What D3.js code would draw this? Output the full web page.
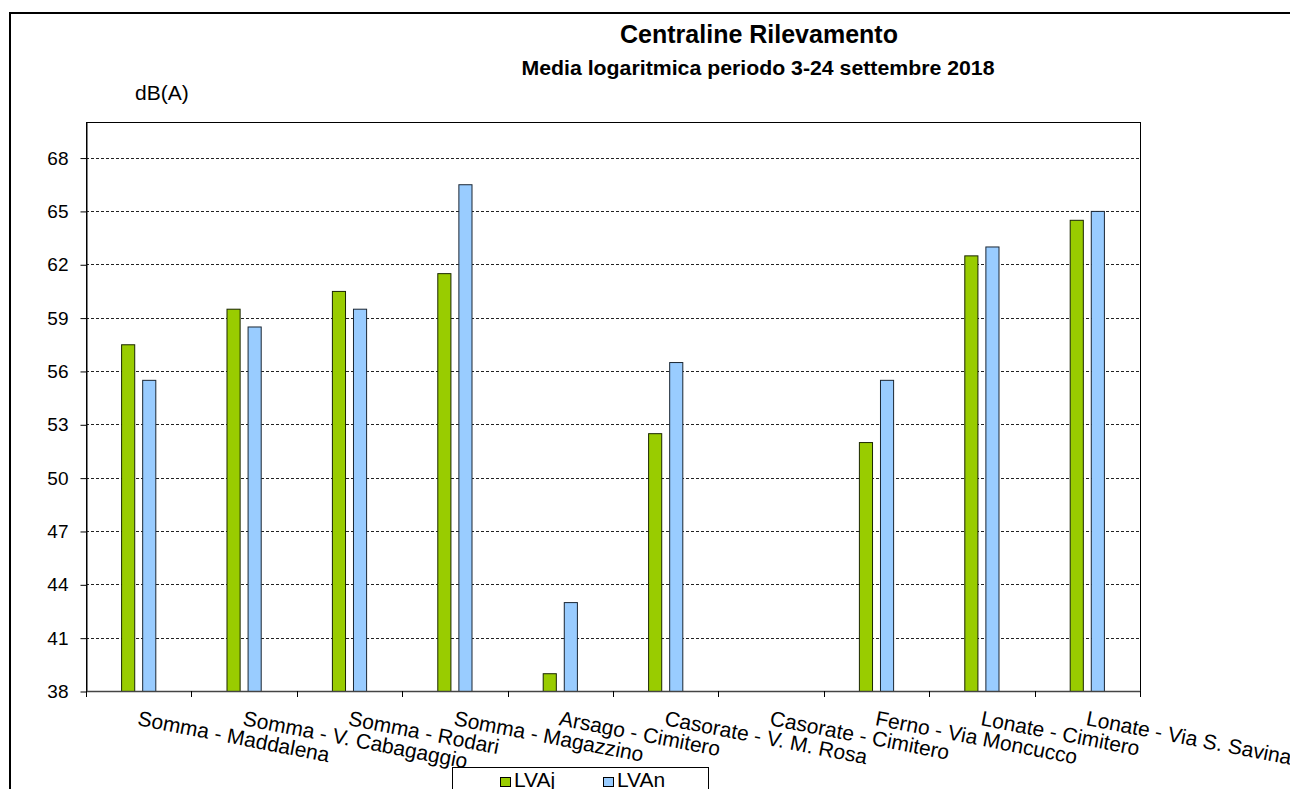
<!DOCTYPE html>
<html>
<head>
<meta charset="utf-8">
<script src="https://cdn.jsdelivr.net/npm/d3@7"></script>
<style>
  body { margin: 0; background: #fff; }
  svg { display: block; font-family: "Liberation Sans", Arial, sans-serif; }
</style>
</head>
<body>
<div id="main"></div>
<script>
// data
var stations = [
  "Somma - Maddalena", "Somma - V. Cabagaggio", "Somma - Rodari", "Somma - Magazzino",
  "Arsago - Cimitero", "Casorate - V. M. Rosa", "Casorate - Cimitero",
  "Ferno - Via Moncucco", "Lonate - Cimitero", "Lonate - Via S. Savina"
];
var lvaj = [57.5, 59.5, 60.5, 61.5, 39, 52.5, null, 52, 62.5, 64.5];
var lvan = [55.5, 58.5, 59.5, 66.5, 43, 56.5, null, 55.5, 63, 65];
var seriesNames = ["LVAj", "LVAn"];
var seriesColors = ["#99cc00", "#99ccff"];
var yTicks = [38, 41, 44, 47, 50, 53, 56, 59, 62, 65, 68];

function transform(x, y) {
  return "translate(" + x + "," + y + ")";
}

var W = 1290, H = 789;
var plot = { left: 86, top: 122, right: 1140, bottom: 691 };

var svg = d3.select("#main").append("svg")
  .attr("width", W).attr("height", H);

// outer frame of the sheet (only top and left edges visible)
svg.append("path")
  .attr("d", "M10," + (H + 5) + "V13H" + (W + 5))
  .attr("fill", "none").attr("stroke", "#000").attr("stroke-width", 2);

// titles
svg.append("text")
  .attr("x", 759).attr("y", 43)
  .attr("text-anchor", "middle")
  .attr("font-size", 25).attr("font-weight", "bold")
  .text("Centraline Rilevamento");

svg.append("text")
  .attr("x", 758).attr("y", 75)
  .attr("text-anchor", "middle")
  .attr("font-size", 20).attr("font-weight", "bold")
  .attr("textLength", 473).attr("lengthAdjust", "spacingAndGlyphs")
  .text("Media logaritmica  periodo 3-24 settembre 2018");

svg.append("text")
  .attr("x", 135).attr("y", 100)
  .attr("font-size", 21)
  .text("dB(A)");

var x0 = d3.scaleBand().domain(stations).range([plot.left, plot.right]);
var bw = x0.bandwidth();
var x1 = d3.scaleBand().domain(seriesNames)
  .range([bw * 0.333, bw * 0.667]).paddingInner(0.33);
var y = d3.scaleLinear().domain([38, 70]).range([plot.bottom, plot.top]);

// plot frame
svg.append("rect")
  .attr("x", plot.left + 0.5).attr("y", plot.top + 0.5)
  .attr("width", plot.right - plot.left).attr("height", plot.bottom - plot.top)
  .attr("fill", "none").attr("stroke", "#000").attr("stroke-width", 1);

// dashed gridlines
svg.append("g").selectAll("line")
  .data(yTicks.filter(function(d) { return d > 38; }))
  .enter().append("line")
    .attr("x1", plot.left).attr("x2", plot.right)
    .attr("y1", function(d) { return Math.round(y(d)) + 0.5; })
    .attr("y2", function(d) { return Math.round(y(d)) + 0.5; })
    .attr("stroke", "#222").attr("stroke-dasharray", "3,2");

// bars
var rows = stations.map(function(s, i) {
  return { station: s, values: [lvaj[i], lvan[i]] };
});

var groups = svg.append("g").selectAll("g").data(rows)
  .enter().append("g")
    .attr("transform", function(d) { return transform(x0(d.station), 0); });

groups.selectAll("rect")
  .data(function(d) {
    return d.values.map(function(v, k) { return { key: seriesNames[k], k: k, v: v }; })
      .filter(function(e) { return e.v != null; });
  })
  .enter().append("rect")
    .attr("x", function(d) { return x1(d.key) + 0.5; })
    .attr("y", function(d) { return y(d.v) + 0.5; })
    .attr("width", x1.bandwidth() - 1)
    .attr("height", function(d) { return y(38) - y(d.v); })
    .attr("fill", function(d) { return seriesColors[d.k]; })
    .attr("stroke", function(d) { return d.k === 0 ? "#1a2600" : "#1a2633"; })
    .attr("stroke-width", 1);

// y axis
var yAxis = d3.axisLeft(y).tickValues(yTicks).tickSize(6).tickPadding(12).tickSizeOuter(0);
var gy = svg.append("g").attr("transform", transform(plot.left + 0.5, 0.5)).call(yAxis);
gy.selectAll("text").attr("font-size", 19).attr("font-family", "Liberation Sans, Arial, sans-serif").attr("fill", "#000");
gy.select(".domain").attr("stroke", "#000");

// x axis: ticks at category boundaries
var boundaries = stations.map(function(s) { return x0(s); }).concat([plot.right]);
svg.append("line")
  .attr("x1", plot.left).attr("x2", plot.right + 1)
  .attr("y1", plot.bottom + 0.5).attr("y2", plot.bottom + 0.5)
  .attr("stroke", "#444").attr("stroke-width", 1.5);
svg.append("g").selectAll("line").data(boundaries)
  .enter().append("line")
    .attr("x1", function(d) { return Math.round(d) + 0.5; })
    .attr("x2", function(d) { return Math.round(d) + 0.5; })
    .attr("y1", plot.bottom).attr("y2", plot.bottom + 6)
    .attr("stroke", "#000");

svg.append("g").selectAll("text").data(stations)
  .enter().append("text")
    .attr("transform", function(d) {
      return transform(x0(d) + bw / 2 - 2, plot.bottom + 34) + " rotate(11)";
    })
    .attr("font-size", 21)
    .text(function(d) { return d; });

// legend (cut off by the bottom edge)
var legend = svg.append("g");
legend.append("rect")
  .attr("x", 452.5).attr("y", 767.5).attr("width", 256).attr("height", 40)
  .attr("fill", "#fff").attr("stroke", "#000");
var items = legend.selectAll("g.item").data(seriesNames)
  .enter().append("g").attr("class", "item")
    .attr("transform", function(d, i) { return transform(500 + i * 103, 0); });
items.append("rect")
  .attr("x", 0.5).attr("y", 777.5).attr("width", 10).attr("height", 9)
  .attr("fill", function(d, i) { return seriesColors[i]; })
  .attr("stroke", "#000");
items.append("text")
  .attr("x", 14).attr("y", 787)
  .attr("font-size", 21)
  .text(function(d) { return d; });
</script>
</body>
</html>
